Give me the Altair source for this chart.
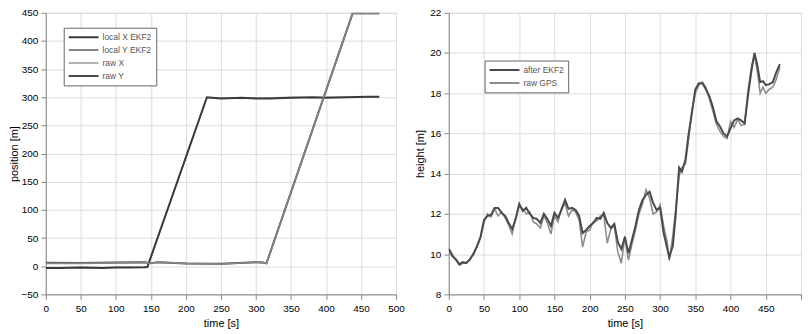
import altair as alt
import pandas as pd

# ---------------- Left panel: position ----------------
pos_series = ["local X EKF2", "local Y EKF2", "raw X", "raw Y"]
pos_colors = ["#3a3a3a", "#858585", "#b4b4b4", "#4a4a4a"]

x_t = [0, 20, 50, 80, 100, 120, 140, 145, 230, 250, 280, 300, 320, 350, 380, 400, 430, 460, 476]
local_x = [-3, -3, -2.5, -3, -2.5, -2.5, -2, -1.5, 300, 298, 299, 298, 298, 299, 300, 299, 300, 301, 301]
raw_x = [-2, -2.5, -2, -2.5, -2, -2, -1.5, -1, 299, 299, 298, 299, 299, 300, 299, 300, 300, 300, 300]

y_t = [0, 50, 100, 140, 150, 160, 200, 250, 300, 310, 315, 438, 476]
local_y = [5, 5, 6, 7, 5, 7, 5, 4, 7, 6, 5, 449, 449]
raw_y = [6, 5.5, 6.5, 7, 5.5, 7, 5, 4.5, 7, 6.5, 5, 449, 449]

# ---------------- Right panel: height ----------------
h_series = ["after EKF2", "raw GPS"]
h_colors = ["#4a4a4a", "#8c8c8c"]

h_t = [0, 5, 10, 15, 20, 25, 30, 35, 40, 45, 50, 55, 60, 65, 70, 75, 80, 85, 90, 95,
       100, 105, 110, 115, 120, 125, 130, 135, 140, 145, 150, 155, 160, 165, 170, 175,
       180, 185, 190, 195, 200, 205, 210, 215, 220, 225, 230, 235, 240, 245, 250, 255,
       260, 265, 270, 275, 280, 285, 290, 295, 300, 305, 310, 313, 318, 322, 327, 331,
       336, 340, 345, 350, 355, 360, 365, 370, 375, 380, 385, 390, 395, 400, 405, 410,
       415, 420, 425, 430, 434, 438, 442, 446, 450, 455, 460, 465, 470]
h_ekf = [10.25, 9.9, 9.75, 9.5, 9.6, 9.55, 9.75, 10.0, 10.4, 10.85, 11.7, 11.9, 11.95, 12.3,
         12.3, 12.05, 11.9, 11.55, 11.25, 11.75, 12.5, 12.15, 12.3, 12.0, 11.8, 11.75, 11.55,
         12.0, 11.75, 11.4, 12.05, 11.8, 12.2, 12.7, 12.25, 12.3, 12.2, 11.9, 11.05, 11.2,
         11.4, 11.55, 11.8, 11.75, 12.05, 11.55, 11.3, 11.5, 10.6, 10.25, 10.85, 10.05, 10.7,
         11.4, 12.2, 12.7, 12.95, 13.1, 12.55, 12.2, 12.3, 11.05, 10.3, 9.85, 10.4, 11.9,
         14.3, 14.1, 14.7, 15.85, 17.0, 18.2, 18.5, 18.5, 18.2, 17.85, 17.3, 16.6, 16.35,
         16.0, 15.85, 16.25, 16.65, 16.75, 16.65, 16.5, 17.95, 19.2, 20.0, 19.4, 18.55, 18.6,
         18.4, 18.45, 18.55, 19.05, 19.45]
h_raw = [10.3, 10.0, 9.7, 9.45, 9.55, 9.6, 9.7, 10.05, 10.35, 10.8, 11.6, 12.0, 11.85, 12.25,
         11.9, 12.1, 11.8, 11.45, 11.0, 11.8, 12.4, 12.25, 12.0, 12.1, 11.6, 11.5, 11.3,
         11.9, 11.55, 11.0, 11.9, 11.6, 12.3, 12.5, 11.9, 12.2, 12.1, 11.7, 10.35, 11.1,
         11.2, 11.6, 11.65, 11.9, 11.95, 10.55, 11.25, 11.4, 10.1, 9.55, 10.9, 9.7, 10.5,
         11.2, 12.0, 12.5, 13.2, 12.8, 12.0, 12.1, 12.45, 11.4, 10.6, 9.7, 10.9, 12.2,
         13.9, 14.3, 14.5, 15.6, 17.1, 18.0, 18.4, 18.55, 18.3, 17.7, 17.1, 16.45, 16.1,
         15.85, 15.75, 16.6, 16.3, 16.7, 16.4, 16.45, 18.2, 19.4, 19.85, 19.1, 18.0, 18.3,
         18.0, 18.2, 18.3, 18.7, 19.3]

x_ticks = list(range(0, 501, 50))
pos_ticks = list(range(-50, 451, 50))
h_ticks = list(range(8, 23, 2))

FONT = "Liberation Sans"


def frame(t, v, name):
    return pd.DataFrame({"t": t, "v": v, "series": name})


def legend(x, y):
    return alt.Legend(
        title=None, orient="none", legendX=x, legendY=y,
        symbolType="stroke", symbolSize=900, symbolStrokeWidth=2,
        labelFontSize=8.5, labelFont=FONT, labelColor="#555",
        strokeColor="#666", fillColor="white", padding=4, rowPadding=2,
        labelOffset=3, clipHeight=11,
    )


def xaxis(hide_last=False):
    kw = dict(values=x_ticks, title="time [s]", labelPadding=4, titlePadding=4,
              titleFontWeight="normal", labelFlush=False)
    if hide_last:
        kw["labelExpr"] = "datum.value == 500 ? '' : datum.label"
    return alt.Axis(**kw)


# ---- left chart ----
pos_frames = [
    (frame(y_t, raw_y, "raw Y"), 2.0),
    (frame(x_t, raw_x, "raw X"), 1.5),
    (frame(x_t, local_x, "local X EKF2"), 2.0),
    (frame(y_t, local_y, "local Y EKF2"), 1.6),
]
pos_color = alt.Color("series:N", scale=alt.Scale(domain=pos_series, range=pos_colors),
                      legend=legend(18, 15))
left_layers = []
for df, w in pos_frames:
    left_layers.append(
        alt.Chart(df).mark_line(strokeWidth=w, clip=True).encode(
            x=alt.X("t:Q", scale=alt.Scale(domain=[0, 500], nice=False), axis=xaxis()),
            y=alt.Y("v:Q", scale=alt.Scale(domain=[-50, 450], nice=False),
                    axis=alt.Axis(values=pos_ticks, title="position [m]", labelPadding=3,
                                  titlePadding=1, titleFontWeight="normal")),
            color=pos_color,
        )
    )
left = alt.layer(*left_layers).properties(width=352, height=283)

# ---- right chart ----
h_color = alt.Color("series:N", scale=alt.Scale(domain=h_series, range=h_colors),
                    legend=legend(36, 48))
right_layers = []
for df, w in [(frame(h_t, h_raw, "raw GPS"), 1.6), (frame(h_t, h_ekf, "after EKF2"), 2.0)]:
    right_layers.append(
        alt.Chart(df).mark_line(strokeWidth=w, clip=True).encode(
            x=alt.X("t:Q", scale=alt.Scale(domain=[0, 500], nice=False), axis=xaxis(True)),
            y=alt.Y("v:Q", scale=alt.Scale(domain=[8, 22], nice=False),
                    axis=alt.Axis(values=h_ticks, title="height [m]", labelPadding=3,
                                  titlePadding=4, titleFontWeight="normal")),
            color=h_color,
        )
    )
right = alt.layer(*right_layers).properties(width=354, height=283)

chart = (
    alt.hconcat(left, right, spacing=9)
    .resolve_scale(color="independent")
    .properties(padding={"left": 0, "top": -2, "right": 0, "bottom": 0})
    .configure_axis(
        labelFont=FONT, labelFontSize=9.5, labelColor="#555",
        titleFont=FONT, titleFontSize=10, titleFontWeight="normal", titleColor="#555",
        gridColor="#e4e4e4", gridWidth=1, ticks=False, domain=False,
    )
    .configure_view(stroke="#777", strokeWidth=1)
    .configure(background="white")
)

chart.save("out.html", embed_options={"renderer": "svg", "actions": False})
